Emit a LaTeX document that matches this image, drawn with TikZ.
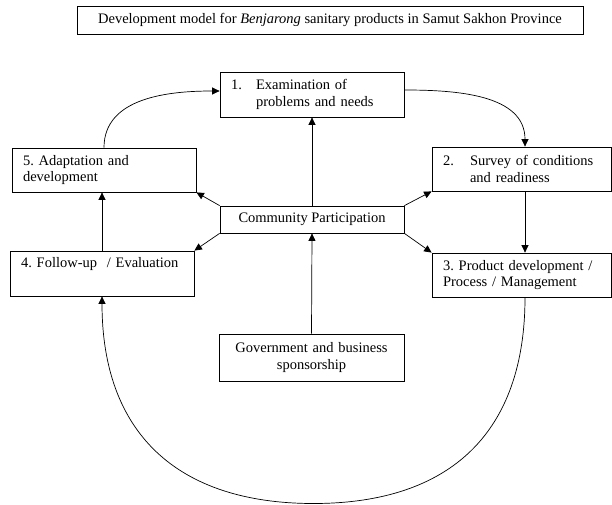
\documentclass[tikz,border=0pt]{standalone}
\usepackage{fontspec}
\setmainfont{Liberation Serif}
\usetikzlibrary{arrows.meta}
\frenchspacing
\begin{document}
\begin{tikzpicture}[x=1pt,y=-1pt,
  font=\fontsize{14.5}{16.5}\selectfont,
  box/.style={draw, line width=0.8pt, rectangle, inner xsep=11pt, inner ysep=0pt, align=left},
  arr/.style={-{Triangle[length=7.5pt,width=7pt]}, line width=0.7pt}]
\useasboundingbox (0,0) rectangle (612,505);

\node[box, minimum width=506, minimum height=28, align=center] (title) at (330,20)
  {Development model for \emph{Benjarong} sanitary products in Samut Sakhon Province};

\node[box, minimum width=184, minimum height=45, text width=162] (b1) at (312,94.5)
  {\makebox[25pt][l]{1.}Examination of\\\hspace*{25pt}problems and needs};
\node[box, minimum width=179, minimum height=44, text width=157] (b2) at (521.5,169)
  {\makebox[27pt][l]{2.}Survey of conditions\\\hspace*{27pt}and readiness};
\node[box, minimum width=179, minimum height=44, text width=157] (b3) at (521.5,275)
  {3. Product development /\\Process / Management};
\node[box, minimum width=184, minimum height=44, text width=162] (b5) at (104,170)
  {5. Adaptation and\\development};
\node[box, minimum width=184, minimum height=45, text width=162] (b4) at (102,273.5)
  {4. Follow-up~~/ Evaluation\\\strut};
\node[box, minimum width=184, minimum height=27, align=center] (cp) at (312,219.5)
  {Community Participation};
\node[box, minimum width=185, minimum height=47, text width=163, align=center] (gov) at (311.5,357.5)
  {Government and business\\sponsorship};

\draw[arr] (b5.north) to[out=90,in=180] ([yshift=3.5pt]b1.west);
\draw[arr] ([yshift=4.5pt]b1.east) to[out=0,in=90] ([xshift=3.5pt]b2.north);
\draw[arr] ([xshift=3.5pt]b2.south) -- ([xshift=3.5pt]b3.north);
\draw[arr] (cp.north) -- (b1.south);
\draw[arr] (gov.north) -- (cp.south);
\draw[arr] (cp.north west) -- (b5.south east);
\draw[arr] (cp.south west) -- (b4.north east);
\draw[arr] (cp.north east) -- (b2.south west);
\draw[arr] (cp.south east) -- (b3.north west);
\draw[arr] (b4.north) -- (b4.north |- b5.south);
\coordinate (bot) at (313.5,503.5);
\draw[arr] ([xshift=3.5pt]b3.south) .. controls (525,432) and (451,503.5) .. (bot)
  .. controls (176,503.5) and (102,432) .. (b4.south);
\end{tikzpicture}
\end{document}
